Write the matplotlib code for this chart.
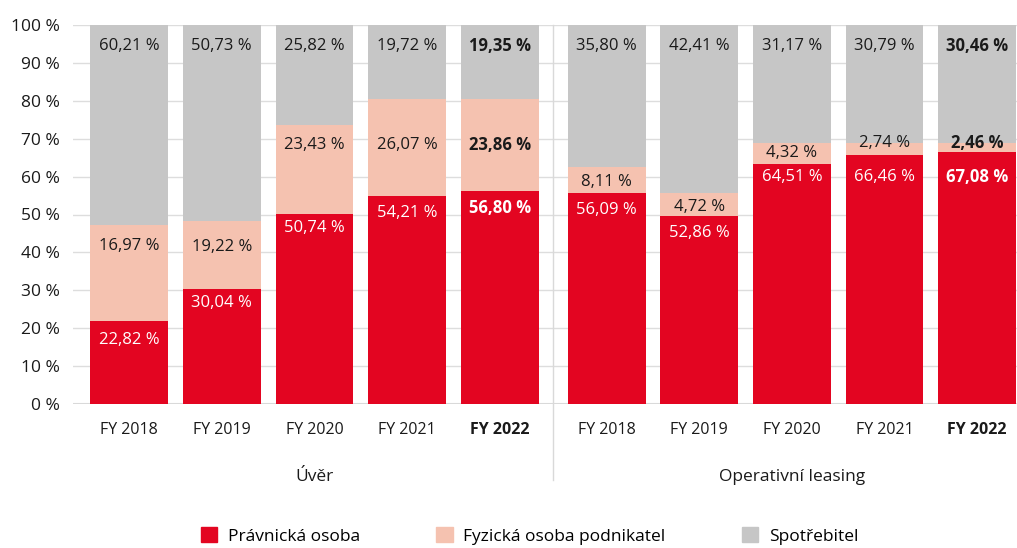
import matplotlib.pyplot as plt
from matplotlib.patches import Patch
import matplotlib.transforms as mtransforms

plt.rcParams['font.family'] = ['Open Sans', 'DejaVu Sans']

# Categories
years = ['FY 2018', 'FY 2019', 'FY 2020', 'FY 2021', 'FY 2022']
groups = ['Úvěr', 'Operativní leasing']
series = ['Právnická osoba', 'Fyzická osoba podnikatel', 'Spotřebitel']

# Segment heights as drawn in the picture (%)
uver_pravnicka = [22.0, 30.3, 50.1, 54.9, 56.3]
uver_fyzicka = [25.2, 18.0, 23.5, 25.6, 24.2]
uver_spotrebitel = [52.8, 51.7, 26.4, 19.5, 19.5]

leasing_pravnicka = [55.8, 49.6, 63.3, 65.7, 66.5]
leasing_fyzicka = [6.8, 6.0, 5.5, 3.2, 2.4]
leasing_spotrebitel = [37.4, 44.4, 31.2, 31.1, 31.1]

# Printed labels
uver_lbl_pravnicka = ['22,82 %', '30,04 %', '50,74 %', '54,21 %', '56,80 %']
uver_lbl_fyzicka = ['16,97 %', '19,22 %', '23,43 %', '26,07 %', '23,86 %']
uver_lbl_spotrebitel = ['60,21 %', '50,73 %', '25,82 %', '19,72 %', '19,35 %']

leasing_lbl_pravnicka = ['56,09 %', '52,86 %', '64,51 %', '66,46 %', '67,08 %']
leasing_lbl_fyzicka = ['8,11 %', '4,72 %', '4,32 %', '2,74 %', '2,46 %']
leasing_lbl_spotrebitel = ['35,80 %', '42,41 %', '31,17 %', '30,79 %', '30,46 %']

# Where each label sits on the value axis (%)
uver_at_pravnicka = [16.9, 26.6, 46.4, 50.4, 51.7]
uver_at_fyzicka = [41.7, 41.5, 68.3, 68.3, 68.3]
uver_at_spotrebitel = [94.5, 94.5, 94.5, 94.5, 94.5]

leasing_at_pravnicka = [51.2, 45.1, 59.9, 59.9, 59.9]
leasing_at_fyzicka = [58.6, 52.0, 66.2, 68.9, 68.9]
leasing_at_spotrebitel = [94.5, 94.5, 94.5, 94.5, 94.5]

colors = ['#e30521', '#f5c2b0', '#c6c6c6']
text_colors = ['white', '#1a1a1a', '#1a1a1a']

fig = plt.figure(figsize=(10.17, 5.48), dpi=100)
ax = fig.add_axes([72.7 / 1017, (548 - 404) / 548, 1 - 72.7 / 1017, (404 - 25) / 548])

group_gap = 1.157
width = 0.84

data = [
    ([uver_pravnicka, uver_fyzicka, uver_spotrebitel],
     [uver_lbl_pravnicka, uver_lbl_fyzicka, uver_lbl_spotrebitel],
     [uver_at_pravnicka, uver_at_fyzicka, uver_at_spotrebitel]),
    ([leasing_pravnicka, leasing_fyzicka, leasing_spotrebitel],
     [leasing_lbl_pravnicka, leasing_lbl_fyzicka, leasing_lbl_spotrebitel],
     [leasing_at_pravnicka, leasing_at_fyzicka, leasing_at_spotrebitel]),
]

xticks, xlabels, group_centers = [], [], []
for g, (segs, lbls, ats) in enumerate(data):
    start = g * (len(years) - 1 + group_gap)
    xs = [start + i for i in range(len(years))]
    group_centers.append(sum(xs) / len(xs))
    bottom = [0.0] * len(years)
    for s in range(3):
        ax.bar(xs, segs[s], width, bottom=bottom, color=colors[s], zorder=2)
        for i, x in enumerate(xs):
            bold = (i == len(years) - 1)
            ax.text(x, ats[s][i], lbls[s][i], ha='center', va='center', fontsize=12,
                    color=text_colors[s], fontweight='bold' if bold else 'normal',
                    zorder=3)
        bottom = [b + v for b, v in zip(bottom, segs[s])]
    xticks += xs
    xlabels += years

ax.set_xlim(-0.61, xticks[-1] + 0.43)
ax.set_ylim(0, 100)
ax.set_yticks(range(0, 101, 10))
ax.set_yticklabels([f'{v} %' for v in range(0, 101, 10)], fontsize=12.5, color='#1a1a1a')
ax.set_xticks(xticks)
ax.set_xticklabels(xlabels, fontsize=11.5, color='#1a1a1a')
for i, t in enumerate(ax.get_xticklabels()):
    if i % len(years) == len(years) - 1:
        t.set_fontweight('bold')
ax.tick_params(axis='x', length=0, pad=13)
ax.tick_params(axis='y', length=0, pad=9)
ax.grid(axis='y', color='#dddddd', linewidth=1, zorder=0)
ax.set_axisbelow(True)
for sp in ax.spines.values():
    sp.set_visible(False)
ax.axhline(0, color='#d9d9d9', linewidth=1.5, zorder=1)

# group separator and group labels
trans = mtransforms.blended_transform_factory(ax.transData, ax.transAxes)
sep_x = (group_centers[0] + 2 + group_centers[1] - 2) / 2
ax.plot([sep_x, sep_x], [-0.2, 1.0], transform=trans, color='#d9d9d9',
        linewidth=1, clip_on=False, zorder=1)
for gx, name in zip(group_centers, groups):
    ax.text(gx, -0.193, name, transform=trans, ha='center', va='center',
            fontsize=12.5, color='#1a1a1a')

handles = [Patch(color=c) for c in colors]
fig.legend(handles, series, loc='center', bbox_to_anchor=(0.5207, 0.022),
           ncol=3, frameon=False, fontsize=12.5, handlelength=0.95,
           handleheight=0.95, handletextpad=0.6, columnspacing=4.4,
           borderpad=0.1)

fig.savefig('out.png', dpi=100)
